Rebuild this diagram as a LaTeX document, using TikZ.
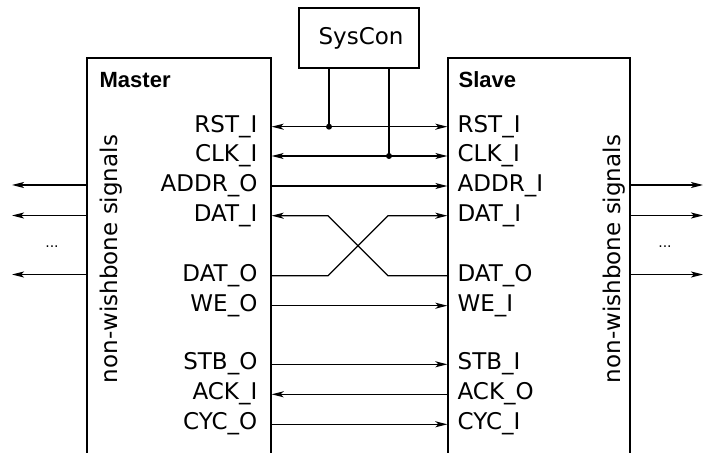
\documentclass[tikz,border=0pt]{standalone}
\usepackage{fontspec}
\setmainfont{DejaVu Sans}
\newfontfamily\arialfont{Liberation Sans}
\usetikzlibrary{arrows.meta}
\begin{document}
\begin{tikzpicture}[x=1bp,y=-1bp,
  line width=1.3bp,
  blk/.style={draw, inner sep=0pt},
  lbl/.style={inner sep=0pt, font=\fontsize{23bp}{27bp}\selectfont},
  ttl/.style={inner sep=0pt, font=\arialfont\bfseries\fontsize{22bp}{26bp}\selectfont},
  arr/.style={-{Stealth[length=12bp,width=6bp,inset=3bp]}},
  darr/.style={{Stealth[length=12bp,width=6bp,inset=3bp]}-{Stealth[length=12bp,width=6bp,inset=3bp]}},
  jdot/.style={circle, fill, inner sep=0pt, minimum size=6bp},
  dots/.style={inner sep=0pt, font=\fontsize{14bp}{16bp}\selectfont}]
\clip (0,0) rectangle (704,453);
% blocks
\node[blk, minimum width=184bp, minimum height=412bp] (master) at (179,264) {};
\node[blk, minimum width=182bp, minimum height=412bp] (slave) at (539,264) {};
\node[blk, minimum width=120bp, minimum height=60bp] (syscon) at (359,38) {};
\node[lbl, anchor=base] (sctxt) at (361,45) {SysCon};
\node[ttl, anchor=base west] (mtitle) at (99,88) {Master};
\node[ttl, anchor=base west] (stitle) at (458,88) {Slave};
% signal rows
\coordinate (yRST) at (0,126.7);
\coordinate (yCLK) at (0,156);
\coordinate (yADDR) at (0,186);
\coordinate (yDATI) at (0,215.7);
\coordinate (yDATO) at (0,275.7);
\coordinate (yWE) at (0,305.7);
\coordinate (ySTB) at (0,364.3);
\coordinate (yACK) at (0,394.3);
\coordinate (yCYC) at (0,424.3);
% master labels
\node[lbl, anchor=base east] (mRST) at (258,132.2) {RST\_I};
\node[lbl, anchor=base east] (mCLK) at (258,161.5) {CLK\_I};
\node[lbl, anchor=base east] (mADDR) at (258,191.5) {ADDR\_O};
\node[lbl, anchor=base east] (mDATI) at (258,221.2) {DAT\_I};
\node[lbl, anchor=base east] (mDATO) at (258,281.2) {DAT\_O};
\node[lbl, anchor=base east] (mWE) at (258,311.2) {WE\_O};
\node[lbl, anchor=base east] (mSTB) at (258,369.8) {STB\_O};
\node[lbl, anchor=base east] (mACK) at (258,399.8) {ACK\_I};
\node[lbl, anchor=base east] (mCYC) at (258,429.8) {CYC\_O};
% slave labels
\node[lbl, anchor=base west] (sRST) at (457,132.2) {RST\_I};
\node[lbl, anchor=base west] (sCLK) at (457,161.5) {CLK\_I};
\node[lbl, anchor=base west] (sADDR) at (457,191.5) {ADDR\_I};
\node[lbl, anchor=base west] (sDATI) at (457,221.2) {DAT\_I};
\node[lbl, anchor=base west] (sDATO) at (457,281.2) {DAT\_O};
\node[lbl, anchor=base west] (sWE) at (457,311.2) {WE\_I};
\node[lbl, anchor=base west] (sSTB) at (457,369.8) {STB\_I};
\node[lbl, anchor=base west] (sACK) at (457,399.8) {ACK\_O};
\node[lbl, anchor=base west] (sCYC) at (457,429.8) {CYC\_I};
% side texts
\node[lbl, rotate=90, anchor=base] (mside) at (117,259) {non-wishbone signals};
\node[lbl, rotate=90, anchor=base] (sside) at (620,259) {non-wishbone signals};
% junctions
\coordinate (jR) at (329,126.7);
\coordinate (jC) at (389,156);
\draw[darr] (master.east |- yRST) -- (slave.west |- yRST);
\draw[darr] (master.east |- yCLK) -- (slave.west |- yCLK);
\draw (syscon.south -| jR) -- (jR);
\draw (syscon.south -| jC) -- (jC);
\node[jdot] (dR) at (jR) {};
\node[jdot] (dC) at (jC) {};
% buses
\draw[arr] (master.east |- yADDR) -- (slave.west |- yADDR);
\coordinate (xa1) at (328,215.7);
\coordinate (xa2) at (388,275.7);
\coordinate (xb1) at (328,275.7);
\coordinate (xb2) at (388,215.7);
\draw[arr] (slave.west |- yDATO) -- (xa2) -- (xa1) -- (master.east |- yDATI);
\draw[arr] (master.east |- yDATO) -- (xb1) -- (xb2) -- (slave.west |- yDATI);
\draw[arr] (master.east |- yWE) -- (slave.west |- yWE);
\draw[arr] (master.east |- ySTB) -- (slave.west |- ySTB);
\draw[arr] (slave.west |- yACK) -- (master.east |- yACK);
\draw[arr] (master.east |- yCYC) -- (slave.west |- yCYC);
% non-wishbone outputs
\coordinate (lo1) at (12,185);
\coordinate (lo2) at (12,215.5);
\coordinate (lo3) at (12,274.5);
\coordinate (ro1) at (703,185);
\coordinate (ro2) at (703,215.5);
\coordinate (ro3) at (703,274.5);
\draw[arr] (master.west |- lo1) -- (lo1);
\draw[arr] (master.west |- lo2) -- (lo2);
\draw[arr] (master.west |- lo3) -- (lo3);
\draw[arr] (slave.east |- ro1) -- (ro1);
\draw[arr] (slave.east |- ro2) -- (ro2);
\draw[arr] (slave.east |- ro3) -- (ro3);
\node[dots, anchor=base] (ldots) at (52,248) {...};
\node[dots, anchor=base] (rdots) at (665,248) {...};
\end{tikzpicture}
\end{document}
